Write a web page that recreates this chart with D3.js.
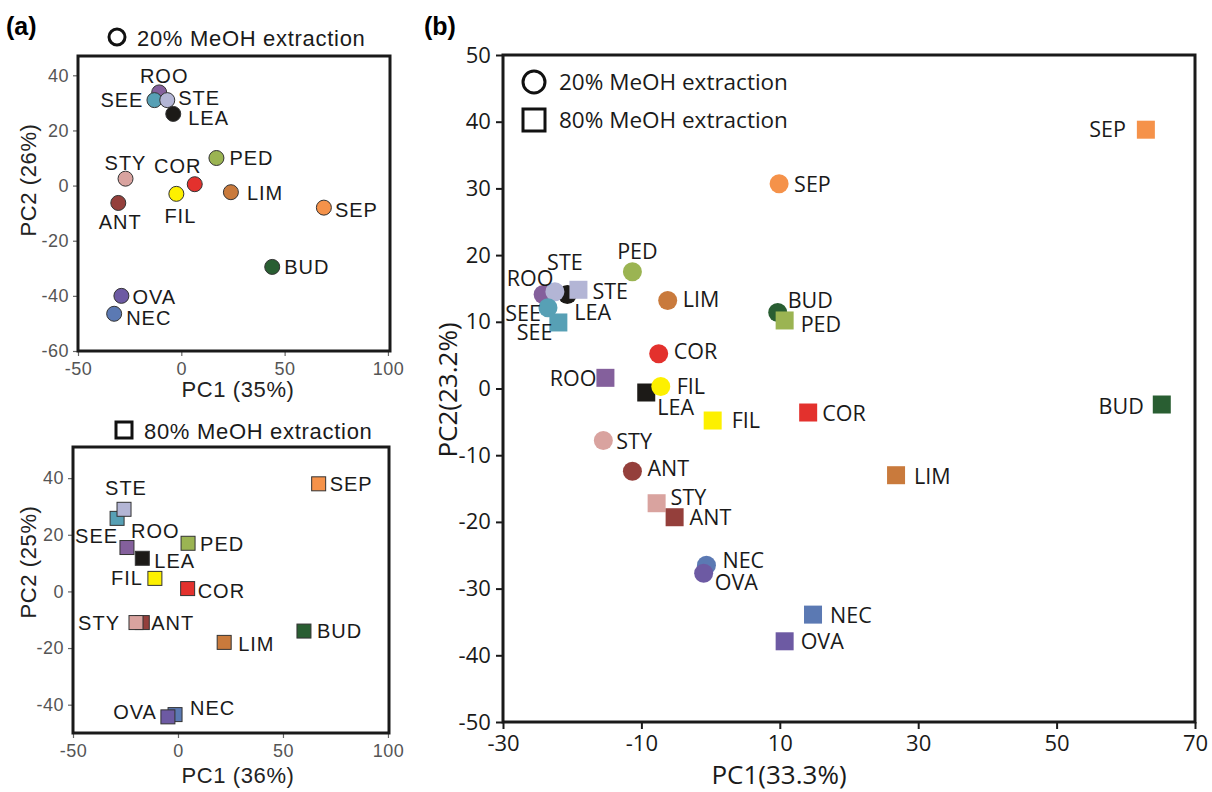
<!DOCTYPE html>
<html><head><meta charset="utf-8">
<script src="https://cdn.jsdelivr.net/npm/d3@7"></script>
<style>body{margin:0;background:#fff}svg{display:block}</style>
</head><body><svg id="c" width="1212" height="792"></svg>
<script>
// ---------- DATA ----------
// Panel (a) top: 20% MeOH extraction, PC1 (35%) / PC2 (26%)
const catsA1 = ["ROO","SEE","STE","LEA","PED","STY","COR","FIL","LIM","ANT","SEP","BUD","OVA","NEC"];
const pc1A1 = [-10.7,-13,-6.8,-3.9,17,-27,6.5,-2.4,24,-30.5,69,44,-29,-32.5];
const pc2A1 = [33.8,31,31,26,10,2.5,0.5,-3,-2.4,-6.3,-8,-29.5,-40,-46.5];
// Panel (a) bottom: 80% MeOH extraction, PC1 (36%) / PC2 (25%)
const catsA2 = ["SEE","STE","ROO","LEA","PED","FIL","COR","ANT","STY","LIM","BUD","SEP","NEC","OVA"];
const pc1A2 = [-29,-25.7,-24.3,-17,4.8,-11,4.6,-17,-20,22,60,67,-1.4,-4.8];
const pc2A2 = [25.8,29,15.5,11.7,17,4.6,1,-11,-11,-18,-14,38,-43.5,-44.3];
// Panel (b): combined PCA, PC1(33.3%) / PC2(23.2%)
const catsB20 = ["ROO","LEA","STE","SEE","PED","SEP","LIM","BUD","COR","FIL","STY","ANT","NEC","OVA"];
const pc1B20 = [-24.2,-20.7,-22.5,-23.5,-11.3,9.9,-6.2,9.7,-7.5,-7.2,-15.5,-11.3,-0.6,-1.0];
const pc2B20 = [14.1,14.1,14.5,12.1,17.5,30.7,13.2,11.4,5.2,0.3,-7.8,-12.4,-26.5,-27.7];
const catsB80 = ["SEE","STE","ROO","LEA","PED","SEP","LIM","BUD","COR","FIL","STY","ANT","NEC","OVA"];
const pc1B80 = [-22,-19.1,-15.2,-9.3,10.7,62.9,26.8,65.2,14.1,0.3,-7.8,-5.2,14.8,10.7];
const pc2B80 = [9.9,14.8,1.6,-0.6,10.2,38.8,-13.0,-2.4,-3.6,-4.8,-17.2,-19.3,-33.9,-37.9];
// Tick labels
const ticksA1x = [-50,0,50,100], ticksA1y = [40,20,0,-20,-40,-60];
const ticksA2x = [-50,0,50,100], ticksA2y = [40,20,0,-20,-40];
const ticksBx = [-30,-10,10,30,50,70], ticksBy = [50,40,30,20,10,0,-10,-20,-30,-40,-50];

// ---------- STYLE ----------
const colors = {ROO:"#84609c",SEE:"#57a0b5",STE:"#b3b5d5",LEA:"#1c1a17",PED:"#9bb452",STY:"#d9a39f",
  COR:"#e3312d",FIL:"#fdf000",LIM:"#c97a3c",ANT:"#943f3b",SEP:"#f5924a",BUD:"#295e32",OVA:"#6d5aa3",NEC:"#5b79b3"};
const labA1 = {ROO:["middle",5,-16],SEE:["end",-11,0],STE:["start",11,-2],LEA:["start",15,4],PED:["start",13,0],
  STY:["middle",0,-16],COR:["middle",-17,-18],FIL:["middle",4,22],LIM:["start",16,1],ANT:["middle",2,19],
  SEP:["start",11,2],BUD:["start",12,0],OVA:["start",11,1],NEC:["start",12,4]};
const labA2 = {SEP:["start",11,0],STE:["middle",2,-21],SEE:["end",1,18],ROO:["start",4,-17],PED:["start",12,1],
  LEA:["start",12,3],FIL:["end",-12,0],COR:["start",10,2],STY:["end",-16,0],ANT:["start",9,0],LIM:["start",14,2],
  BUD:["start",13,0],NEC:["start",15,-7],OVA:["end",-11,-5]};
const labB20 = {SEP:["start",15,0],PED:["middle",5,-21],STE:["middle",10,-30],ROO:["middle",-13,-17],LEA:["start",7,17],
  SEE:["end",-7,5],LIM:["start",15,-2],BUD:["start",10,-13],COR:["start",15,-3],FIL:["start",16,-1],STY:["start",13,0],
  ANT:["start",15,-4],NEC:["start",16,-6],OVA:["start",11,8]};
const labB80 = {STE:["start",14,1],SEE:["end",-6,9],PED:["start",16,3],SEP:["end",-20,-1],BUD:["end",-18,1],
  COR:["start",14,0],LIM:["start",18,0],ROO:["end",-9,0],LEA:["start",11,14],FIL:["start",19,-1],STY:["start",14,-7],
  ANT:["start",15,-1],NEC:["start",17,0],OVA:["start",16,-1]};

const svg = d3.select("#c");
const fA = "'Liberation Sans', Arial, sans-serif";
const fB = "'Open Sans', 'DejaVu Sans', sans-serif";
const fmt = d => String(d);

// Panel labels
svg.append("text").attr("x",6).attr("y",35).attr("font-family",fA).attr("font-weight","bold").attr("font-size",25).text("(a)");
svg.append("text").attr("x",424).attr("y",35).attr("font-family",fA).attr("font-weight","bold").attr("font-size",25).text("(b)");

// ---------- Panel (a) helper ----------
function panelA(cfg){
  const x = d3.scaleLinear().domain(cfg.xd).range([cfg.l,cfg.r]);
  const y = d3.scaleLinear().domain(cfg.yd).range([cfg.b,cfg.t]);
  const g = svg.append("g");
  const ax = g.append("g").attr("transform",`translate(0,${cfg.b})`)
    .call(d3.axisBottom(x).tickValues(cfg.tx).tickSize(5).tickFormat(fmt));
  const ay = g.append("g").attr("transform",`translate(${cfg.l},0)`)
    .call(d3.axisLeft(y).tickValues(cfg.ty).tickSize(5).tickFormat(fmt));
  [ax,ay].forEach(a=>{
    a.select(".domain").remove();
    a.selectAll(".tick line").attr("stroke","#666").attr("stroke-width",1.2);
    a.selectAll(".tick text").attr("fill","#555").attr("font-family",fA).attr("font-size",18).attr("letter-spacing",0.5);
  });
  ax.selectAll(".tick text").attr("dy","0.9em");
  ay.selectAll(".tick text").attr("dx","-0.05em");
  g.append("rect").attr("x",cfg.l).attr("y",cfg.t).attr("width",cfg.r-cfg.l).attr("height",cfg.b-cfg.t)
    .attr("fill","none").attr("stroke","#1a1a1a").attr("stroke-width",3);
  const pts = cfg.cats.map((c,i)=>({c, x:x(cfg.px[i]), y:y(cfg.py[i])}));
  if(cfg.shape==="circle"){
    g.selectAll("circle.m").data(pts).join("circle").attr("class","m")
      .attr("cx",d=>d.x).attr("cy",d=>d.y).attr("r",7.5)
      .attr("fill",d=>colors[d.c]).attr("stroke","#333").attr("stroke-width",1);
  } else {
    const s=14;
    g.selectAll("rect.m").data(pts).join("rect").attr("class","m")
      .attr("x",d=>d.x-s/2).attr("y",d=>d.y-s/2).attr("width",s).attr("height",s)
      .attr("fill",d=>colors[d.c]).attr("stroke","#333").attr("stroke-width",1);
  }
  g.selectAll("text.lab").data(pts).join("text").attr("class","lab")
    .attr("x",d=>d.x+cfg.lab[d.c][1]).attr("y",d=>d.y+cfg.lab[d.c][2])
    .attr("text-anchor",d=>cfg.lab[d.c][0]).attr("dominant-baseline","central")
    .attr("font-family",fA).attr("font-size",20).attr("letter-spacing",1).attr("fill","#1a1a1a").text(d=>d.c);
  // titles
  g.append("text").attr("x",cfg.xtx).attr("y",cfg.xty).attr("text-anchor","middle").attr("dominant-baseline","central")
    .attr("font-family",fA).attr("font-size",22).attr("letter-spacing",0.6).attr("fill","#222").text(cfg.xt);
  g.append("text").attr("transform",`translate(${cfg.ytx},${cfg.yty}) rotate(-90)`).attr("text-anchor","middle")
    .attr("dominant-baseline","central").attr("font-family",fA).attr("font-size",22).attr("letter-spacing",0.6).attr("fill","#222").text(cfg.yt);
  // legend header
  if(cfg.shape==="circle"){
    g.append("circle").attr("cx",cfg.hx).attr("cy",cfg.hy).attr("r",8).attr("fill","#fff").attr("stroke","#111").attr("stroke-width",3);
  } else {
    g.append("rect").attr("x",cfg.hx-8).attr("y",cfg.hy-8).attr("width",16).attr("height",16).attr("fill","#fff").attr("stroke","#111").attr("stroke-width",3);
  }
  g.append("text").attr("x",cfg.hx+20).attr("y",cfg.hy+1).attr("dominant-baseline","central")
    .attr("font-family",fA).attr("font-size",22).attr("letter-spacing",0.7).attr("fill","#1a1a1a").text(cfg.head);
}

panelA({xd:[-50,101],yd:[-60,47],l:78,r:390,t:56,b:351,tx:ticksA1x,ty:ticksA1y,
  cats:catsA1,px:pc1A1,py:pc2A1,lab:labA1,shape:"circle",
  xt:"PC1 (35%)",xtx:238,xty:389,yt:"PC2 (26%)",ytx:28,yty:180,hx:117,hy:37,head:"20% MeOH extraction"});
panelA({xd:[-50,100.5],yd:[-50,51],l:73,r:389,t:447,b:733,tx:ticksA2x,ty:ticksA2y,
  cats:catsA2,px:pc1A2,py:pc2A2,lab:labA2,shape:"square",
  xt:"PC1 (36%)",xtx:238,xty:775,yt:"PC2 (25%)",ytx:28,yty:562,hx:124,hy:430,head:"80% MeOH extraction"});

// ---------- Panel (b) ----------
(function(){
  const L=503,R=1195,T=55,B=722;
  const x = d3.scaleLinear().domain([-30,70]).range([L,R]);
  const y = d3.scaleLinear().domain([-50,50]).range([B,T]);
  const g = svg.append("g");
  const ax = g.append("g").attr("transform",`translate(0,${B})`)
    .call(d3.axisBottom(x).tickValues(ticksBx).tickSize(7).tickFormat(fmt));
  const ay = g.append("g").attr("transform",`translate(${L},0)`)
    .call(d3.axisLeft(y).tickValues(ticksBy).tickSize(7).tickFormat(fmt));
  [ax,ay].forEach(a=>{
    a.select(".domain").remove();
    a.selectAll(".tick line").attr("stroke","#1a1a1a").attr("stroke-width",2);
    a.selectAll(".tick text").attr("fill","#1a1a1a").attr("font-family",fB).attr("font-size",22);
  });
  ax.selectAll(".tick text").attr("dy","0.85em");
  ay.selectAll(".tick text").attr("dx","-0.1em");
  g.append("rect").attr("x",L).attr("y",T).attr("width",R-L).attr("height",B-T)
    .attr("fill","none").attr("stroke","#1a1a1a").attr("stroke-width",3);

  const c20 = catsB20.map((c,i)=>({c,x:x(pc1B20[i]),y:y(pc2B20[i]),lab:labB20[c]}));
  const c80 = catsB80.map((c,i)=>({c,x:x(pc1B80[i]),y:y(pc2B80[i]),lab:labB80[c]}));
  const mk = g.append("g");
  mk.selectAll("circle").data(c20).join("circle").attr("cx",d=>d.x).attr("cy",d=>d.y).attr("r",9.5)
    .attr("fill",d=>colors[d.c]);
  mk.selectAll("rect").data(c80).join("rect").attr("x",d=>d.x-9).attr("y",d=>d.y-9).attr("width",18).attr("height",18)
    .attr("fill",d=>colors[d.c]);
  mk.selectAll("circle").filter(d=>d.c==="FIL").raise();
  g.selectAll("text.lab").data(c20.concat(c80)).join("text").attr("class","lab")
    .attr("x",d=>d.x+d.lab[1]).attr("y",d=>d.y+d.lab[2]).attr("text-anchor",d=>d.lab[0])
    .attr("dominant-baseline","central").attr("font-family",fB).attr("font-size",21.5).attr("fill","#1a1a1a").text(d=>d.c);

  // legend
  g.append("circle").attr("cx",534).attr("cy",82).attr("r",11).attr("fill","#fff").attr("stroke","#111").attr("stroke-width",3);
  g.append("rect").attr("x",523).attr("y",109).attr("width",22).attr("height",22).attr("fill","#fff").attr("stroke","#111").attr("stroke-width",3);
  g.append("text").attr("x",559).attr("y",81).attr("dominant-baseline","central").attr("font-family",fB).attr("font-size",22.5).attr("fill","#1a1a1a").text("20% MeOH extraction");
  g.append("text").attr("x",559).attr("y",119).attr("dominant-baseline","central").attr("font-family",fB).attr("font-size",22.5).attr("fill","#1a1a1a").text("80% MeOH extraction");

  // axis titles
  g.append("text").attr("x",779).attr("y",774).attr("text-anchor","middle").attr("dominant-baseline","central")
    .attr("font-family",fB).attr("font-size",26).attr("fill","#1a1a1a").text("PC1(33.3%)");
  g.append("text").attr("transform",`translate(447,390) rotate(-90)`).attr("text-anchor","middle").attr("dominant-baseline","central")
    .attr("font-family",fB).attr("font-size",26).attr("fill","#1a1a1a").text("PC2(23.2%)");
})();
</script></body></html>
